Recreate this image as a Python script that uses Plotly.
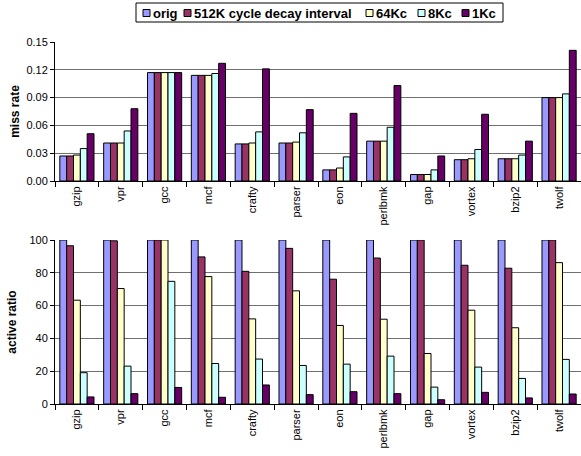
import plotly.graph_objects as go
from plotly.subplots import make_subplots

categories = ["gzip", "vpr", "gcc", "mcf", "crafty", "parser", "eon", "perlbmk", "gap", "vortex", "bzip2", "twolf"]
series_names = ["orig", "512K cycle decay interval", "64Kc", "8Kc", "1Kc"]
colors = ["#9999FF", "#993366", "#FFFFCC", "#CCFFFF", "#660066"]

miss_orig = [0.027, 0.041, 0.117, 0.114, 0.040, 0.041, 0.012, 0.043, 0.007, 0.023, 0.024, 0.090]
miss_512k = [0.027, 0.041, 0.117, 0.114, 0.040, 0.041, 0.012, 0.043, 0.007, 0.023, 0.024, 0.090]
miss_64k = [0.028, 0.041, 0.117, 0.114, 0.041, 0.042, 0.014, 0.043, 0.007, 0.024, 0.024, 0.090]
miss_8k = [0.035, 0.054, 0.117, 0.116, 0.053, 0.052, 0.026, 0.058, 0.012, 0.034, 0.028, 0.094]
miss_1k = [0.051, 0.078, 0.117, 0.127, 0.121, 0.077, 0.073, 0.103, 0.027, 0.072, 0.043, 0.141]

act_orig = [100, 100, 100, 100, 100, 100, 100, 100, 100, 100, 100, 100]
act_512k = [96.5, 99.5, 100, 89.7, 80.9, 94.9, 76.1, 89.0, 100, 84.6, 82.8, 100]
act_64k = [63.3, 70.4, 100, 77.7, 51.9, 69.0, 47.9, 51.7, 30.8, 57.2, 46.5, 86.2]
act_8k = [19.1, 23.1, 74.8, 24.7, 27.4, 23.5, 24.3, 29.2, 10.3, 22.5, 15.6, 27.2]
act_1k = [4.3, 6.3, 10.1, 4.1, 11.6, 5.7, 7.5, 6.3, 2.6, 7.1, 3.7, 6.1]

miss_series = [miss_orig, miss_512k, miss_64k, miss_8k, miss_1k]
act_series = [act_orig, act_512k, act_64k, act_8k, act_1k]

W, H = 581, 456
mt, mb, ml, mr = 42, 52, 55, 0
ph = H - mt - mb
pw = W - ml - mr

FAM = "Arial, Liberation Sans, sans-serif"


def px_x(px):
    return (px - ml) / pw


def px_y(py):
    return (H - mb - py) / ph


fig = make_subplots(rows=2, cols=1, vertical_spacing=0.05)

for i, name in enumerate(series_names):
    fig.add_trace(go.Bar(x=categories, y=miss_series[i], name=name,
                         marker=dict(color=colors[i], line=dict(color="black", width=1)),
                         showlegend=False), row=1, col=1)
    fig.add_trace(go.Bar(x=categories, y=act_series[i], name=name,
                         marker=dict(color=colors[i], line=dict(color="black", width=1)),
                         showlegend=False), row=2, col=1)

# legend drawn as a boxed row of swatches + labels (layout positions in pixels)
legend_box = (136, 3, 503, 22)
swatch_x = [143, 184, 366, 418, 462]
shapes = [dict(type="rect", xref="paper", yref="paper",
               x0=px_x(legend_box[0]), x1=px_x(legend_box[2]),
               y0=px_y(legend_box[3]), y1=px_y(legend_box[1]),
               line=dict(color="black", width=1), fillcolor="white", layer="above")]
annotations = []
for i, name in enumerate(series_names):
    sx = swatch_x[i]
    shapes.append(dict(type="rect", xref="paper", yref="paper",
                       x0=px_x(sx), x1=px_x(sx + 7), y0=px_y(16.5), y1=px_y(9.5),
                       line=dict(color="black", width=1), fillcolor=colors[i], layer="above"))
    annotations.append(dict(text=name, xref="paper", yref="paper", x=px_x(sx + 8), y=px_y(13),
                            xanchor="left", yanchor="middle", showarrow=False,
                            font=dict(family=FAM, size=13, color="black", weight="bold")))

fig.update_layout(
    width=W, height=H,
    margin=dict(l=ml, r=mr, t=mt, b=mb, autoexpand=False),
    paper_bgcolor="white", plot_bgcolor="white",
    barmode="group", bargap=0.22, bargroupgap=0,
    font=dict(family=FAM, size=11, color="black"),
    showlegend=False,
    shapes=shapes, annotations=annotations,
)

top_lo = px_y(181)
bot_hi = px_y(240)

axis_common = dict(showline=True, linecolor="black", linewidth=1, mirror=False, automargin=False)

fig.update_xaxes(**axis_common, ticks="outside", tickson="boundaries", ticklen=5,
                 tickcolor="black", tickangle=-90, showgrid=False,
                 tickfont=dict(family=FAM, size=11, color="black"))
fig.update_yaxes(**axis_common, ticks="outside", ticklen=4, tickcolor="black",
                 showgrid=True, gridcolor="#707070", gridwidth=1, zeroline=False,
                 tickfont=dict(family=FAM, size=11, color="black"))

fig.update_layout(
    yaxis=dict(domain=[top_lo, 1.0], range=[0, 0.15], dtick=0.03, tickformat=".2f",
               title=dict(text="miss rate", standoff=4,
                          font=dict(family=FAM, size=12, color="black", weight="bold"))),
    yaxis2=dict(domain=[0, bot_hi], range=[0, 100], dtick=20,
                title=dict(text="active ratio", standoff=10,
                           font=dict(family=FAM, size=12, color="black", weight="bold"))),
    xaxis=dict(anchor="y"),
    xaxis2=dict(anchor="y2"),
)

fig.write_html("out.html", config={"displayModeBar": False},
               post_script="document.body.style.margin='0';document.body.style.overflow='hidden';")
